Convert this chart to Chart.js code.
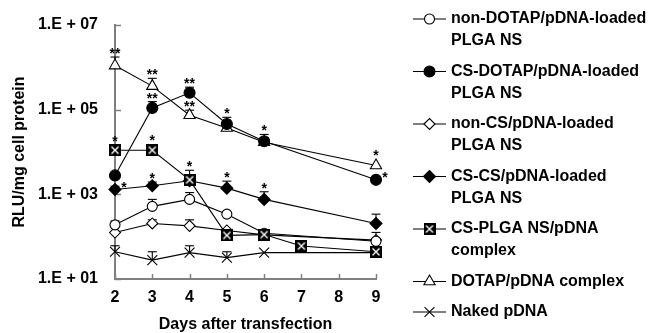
<!DOCTYPE html>
<html>
<head>
<meta charset="utf-8">
<script src="https://cdn.jsdelivr.net/npm/chart.js@4/dist/chart.umd.min.js"></script>
<style>
  body { margin: 0; background: #fff; }
  #wrap { width: 656px; height: 333px; position: relative; }
</style>
</head>
<body>
<div id="wrap"><canvas id="rlu-chart"></canvas></div>
<script>
// days on the x axis
const days = [2, 3, 4, 5, 6, 7, 8, 9];
const xTickValues = [2, 3, 4, 5, 6, 7, 8, 9];
const yTickValues = [1e1, 1e3, 1e5, 1e7];
const yTickLabels = ['1.E + 01', '1.E + 03', '1.E + 05', '1.E + 07'];

const nonDotap    = [190, 520, 760, 340, 120, null, null, 78];
const nonDotapErr = [235, 760, 1100, null, null, null, null, 126];
const csDotap     = [2800, 110000, 250000, 46000, 18000, null, null, 2200];
const csDotapErr  = [null, 155000, 340000, 66000, 26000, null, null, null];
const nonCs       = [125, 205, 180, 140, 110, null, null, 83];
const nonCsErr    = [null, 250, 250, null, null, null, null, null];
const csCs        = [1300, 1600, 2100, 1400, 760, null, null, 205];
const csCsErr     = [1550, 1950, null, 2050, 1150, null, null, 340];
const csPlga      = [11000, 11000, 2200, 107, 112, 60, null, 44];
const csPlgaErr   = [15000, null, 3700, null, null, null, null, null];
const dotap       = [1100000, 360000, 74000, 37000, 17000, null, null, 4800];
const dotapErr    = [1750000, 550000, 97000, null, 22000, null, null, null];
const naked       = [44, 28, 42, 32, 42, null, null, 42];
const nakedErr    = [61, 44, 61, 44, null, null, null, null];

// significance marks
const csDotapStars = ['', '**', '**', '*', '*', '', '', '*'];
const csCsStars    = ['*', '*', '', '*', '*', '', '', ''];
const csPlgaStars  = ['*', '*', '*', '', '', '', '', ''];
const dotapStars   = ['**', '**', '**', '', '', '', '', '*'];
const noStars      = ['', '', '', '', '', '', '', ''];

const seriesNames = [
  ['non-DOTAP/pDNA-loaded', 'PLGA NS'],
  ['CS-DOTAP/pDNA-loaded', 'PLGA NS'],
  ['non-CS/pDNA-loaded', 'PLGA NS'],
  ['CS-CS/pDNA-loaded', 'PLGA NS'],
  ['CS-PLGA NS/pDNA', 'complex'],
  ['DOTAP/pDNA complex'],
  ['Naked pDNA']
];

// black square with a white X
const crossedSquare = (() => {
  const s = 12;
  const c = document.createElement('canvas');
  c.width = s; c.height = s;
  const g = c.getContext('2d');
  g.fillStyle = '#000';
  g.fillRect(0, 0, s, s);
  g.strokeStyle = '#fff';
  g.lineWidth = 1.4;
  g.beginPath();
  g.moveTo(2.5, 2.5); g.lineTo(s - 2.5, s - 2.5);
  g.moveTo(s - 2.5, 2.5); g.lineTo(2.5, s - 2.5);
  g.stroke();
  return c;
})();

const toPoints = (vals) => days.map((d, i) => ({ x: d, y: vals[i] })).filter(p => p.y != null);

const series = [
  { vals: nonDotap, err: nonDotapErr, stars: noStars,      style: 'circle',   r: 5,   fill: '#fff', order: 4 },
  { vals: csDotap,  err: csDotapErr,  stars: csDotapStars, style: 'circle',   r: 5.5, fill: '#000', order: 1 },
  { vals: nonCs,    err: nonCsErr,    stars: noStars,      style: 'rectRot',  r: 5.5, fill: '#fff', order: 5 },
  { vals: csCs,     err: csCsErr,     stars: csCsStars,    style: 'rectRot',  r: 6,   fill: '#000', order: 3 },
  { vals: csPlga,   err: csPlgaErr,   stars: csPlgaStars,  style: crossedSquare, r: 6, fill: '#000', order: 0 },
  { vals: dotap,    err: dotapErr,    stars: dotapStars,   style: 'triangle', r: 6.5, fill: '#fff', order: 2 },
  { vals: naked,    err: nakedErr,    stars: noStars,      style: 'crossRot', r: 7,   fill: '#000', order: 6 }
];

// stars written to the right of the point instead of above: [series, day]
const starsRight = [[3, 2], [1, 9]];

const FONT = 'Liberation Sans, Arial, sans-serif';

const line = (ctx, x1, y1, x2, y2) => {
  ctx.beginPath(); ctx.moveTo(x1, y1); ctx.lineTo(x2, y2); ctx.stroke();
};

const extras = {
  id: 'extras',
  beforeDatasetsDraw(chart) {
    const { ctx, scales: { x, y } } = chart;
    ctx.save();
    // inward tick marks
    ctx.strokeStyle = '#808080';
    ctx.lineWidth = 1.5;
    xTickValues.forEach(v => {
      const px = Math.round(x.getPixelForValue(v)) + 0.5;
      line(ctx, px, y.bottom, px, y.bottom - 5);
    });
    yTickValues.forEach(v => {
      const py = Math.round(y.getPixelForValue(v)) + 0.5;
      line(ctx, x.left, py, x.left + 6, py);
    });
    // upper error bars
    ctx.strokeStyle = '#000';
    ctx.lineWidth = 1.1;
    series.forEach(s => {
      s.err.forEach((e, i) => {
        if (e == null || s.vals[i] == null) return;
        const px = x.getPixelForValue(days[i]);
        const py = y.getPixelForValue(s.vals[i]);
        const pe = y.getPixelForValue(e);
        line(ctx, px, py, px, pe);
        line(ctx, px - 4.5, pe, px + 4.5, pe);
      });
    });
    ctx.restore();
  },
  afterDatasetsDraw(chart) {
    const { ctx, scales: { x, y } } = chart;
    ctx.save();
    ctx.fillStyle = '#000';
    ctx.font = 'bold 14px ' + FONT;
    ctx.textAlign = 'center';
    ctx.textBaseline = 'alphabetic';
    series.forEach((s, si) => {
      s.stars.forEach((st, i) => {
        if (!st) return;
        const px = x.getPixelForValue(days[i]);
        const py = y.getPixelForValue(s.vals[i]);
        let cx, cy;
        if (starsRight.some(r => r[0] === si && r[1] === days[i])) {
          cx = px + 9;
          cy = py - 6;
        } else {
          const top = s.err[i] != null ? y.getPixelForValue(s.err[i]) : py - s.r;
          cx = px;
          cy = top - 7;
        }
        ctx.fillText(st, cx, cy + 8);
      });
    });
    ctx.restore();
  },
  afterDraw(chart) {
    const { ctx } = chart;
    ctx.save();
    ctx.font = 'bold 16px ' + FONT;
    ctx.textAlign = 'left';
    ctx.textBaseline = 'middle';
    let yy = 19;
    series.forEach((s, i) => {
      ctx.strokeStyle = '#000';
      ctx.lineWidth = 1.1;
      line(ctx, 413, yy, 446, yy);
      ctx.fillStyle = s.fill;
      Chart.helpers.drawPoint(ctx, { pointStyle: s.style, radius: s.r, rotation: 0, borderWidth: 1.1 }, 429.5, yy);
      ctx.fillStyle = '#000';
      seriesNames[i].forEach((t, k) => ctx.fillText(t, 451, yy + k * 22));
      yy += seriesNames[i].length * 22 + 8.5;
    });
    ctx.restore();
  }
};

Chart.defaults.font.family = FONT;
Chart.defaults.font.weight = 'bold';
Chart.defaults.font.size = 16;
Chart.defaults.color = '#000';

const ctx = document.getElementById('rlu-chart').getContext('2d');
const rluChart = new Chart(ctx, {
  type: 'line',
  data: {
    datasets: series.map((s, i) => ({
      label: seriesNames[i].join(' '),
      data: toPoints(s.vals),
      order: s.order,
      borderColor: '#000',
      borderWidth: 1.1,
      pointStyle: s.style,
      pointRadius: s.r,
      pointHoverRadius: s.r,
      pointBackgroundColor: s.fill,
      pointBorderColor: '#000',
      pointBorderWidth: 1.1,
      tension: 0,
      fill: false,
      clip: false
    }))
  },
  options: {
    responsive: true,
    maintainAspectRatio: false,
    animation: false,
    layout: { padding: { top: 17, right: 280, left: 0, bottom: 0 } },
    plugins: {
      legend: { display: false },
      tooltip: { enabled: false }
    },
    scales: {
      x: {
        type: 'linear',
        min: 2,
        max: 9,
        grid: { display: false, drawTicks: false },
        border: { color: '#808080', width: 2 },
        ticks: { stepSize: 1, padding: 11, font: { size: 16, weight: 'bold', lineHeight: 1 } },
        title: {
          display: true,
          text: 'Days after transfection',
          font: { size: 16, weight: 'bold', lineHeight: 1 },
          padding: { top: 0, bottom: 0 }
        },
        afterFit: (scale) => { scale.height = 54; }
      },
      y: {
        type: 'logarithmic',
        min: 10,
        max: 1e7,
        grid: { display: false, drawTicks: false },
        border: { color: '#808080', width: 2 },
        afterBuildTicks: (scale) => {
          scale.ticks = yTickValues.map(v => ({ value: v }));
        },
        ticks: {
          padding: 17,
          font: { size: 16, weight: 'bold', lineHeight: 1 },
          callback: (v) => yTickLabels[yTickValues.indexOf(v)]
        },
        title: {
          display: true,
          text: 'RLU/mg cell protein',
          font: { size: 16, weight: 'bold', lineHeight: 1 },
          padding: { top: 12, bottom: 0 }
        },
        afterFit: (scale) => { scale.width = 115; }
      }
    }
  },
  plugins: [extras]
});
</script>
</body>
</html>
